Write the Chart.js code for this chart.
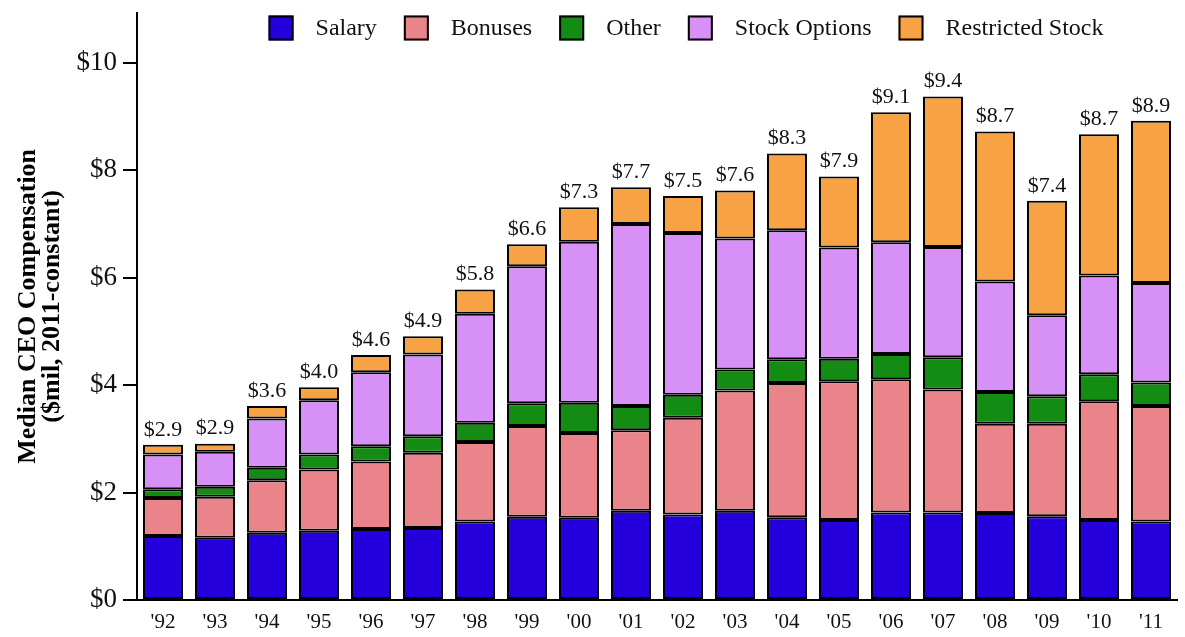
<!DOCTYPE html>
<html lang="en">
<head>
  <meta charset="UTF-8">
  <title>Median CEO Compensation</title>
  <script src="https://cdn.jsdelivr.net/npm/chart.js"></script>
  <style>
    html, body { margin: 0; padding: 0; background: #fff; }
    #wrap { width: 1185px; height: 637px; }
  </style>
</head>
<body>
  <div id="wrap"><canvas id="ceoChart"></canvas></div>

  <script>
    // Data ($ millions, 2011-constant)
    const years = ["'92", "'93", "'94", "'95", "'96", "'97", "'98", "'99", "'00", "'01",
                   "'02", "'03", "'04", "'05", "'06", "'07", "'08", "'09", "'10", "'11"];
    const salary       = [1.19, 1.16, 1.25, 1.29, 1.32, 1.34, 1.46, 1.55, 1.53, 1.66, 1.59, 1.66, 1.54, 1.49, 1.63, 1.63, 1.62, 1.56, 1.49, 1.46];
    const bonuses      = [0.71, 0.76, 0.98, 1.14, 1.26, 1.40, 1.48, 1.69, 1.58, 1.50, 1.80, 2.24, 2.50, 2.58, 2.48, 2.29, 1.66, 1.72, 2.21, 2.15];
    const other        = [0.16, 0.19, 0.23, 0.28, 0.28, 0.31, 0.36, 0.42, 0.56, 0.45, 0.43, 0.39, 0.44, 0.42, 0.47, 0.60, 0.59, 0.51, 0.50, 0.44];
    const stockOptions = [0.65, 0.65, 0.92, 1.01, 1.38, 1.52, 2.03, 2.55, 3.00, 3.39, 3.01, 2.44, 2.40, 2.07, 2.08, 2.05, 2.06, 1.51, 1.84, 1.85];
    const restricted   = [0.18, 0.15, 0.23, 0.24, 0.32, 0.34, 0.45, 0.41, 0.64, 0.68, 0.69, 0.89, 1.43, 1.32, 2.42, 2.80, 2.79, 2.13, 2.63, 3.02];
    const totals       = [2.9, 2.9, 3.6, 4.0, 4.6, 4.9, 5.8, 6.6, 7.3, 7.7, 7.5, 7.6, 8.3, 7.9, 9.1, 9.4, 8.7, 7.4, 8.7, 8.9];
    const yTicks       = [0, 2, 4, 6, 8, 10];

    const serif = '"Liberation Serif", "DejaVu Serif", serif';

    // total above each stack
    const totalsPlugin = {
      id: 'totals',
      afterDatasetsDraw(chart) {
        const ctx = chart.ctx;
        const topMeta = chart.getDatasetMeta(chart.data.datasets.length - 1);
        ctx.save();
        ctx.font = '22px ' + serif;
        ctx.fillStyle = '#111';
        ctx.textAlign = 'center';
        ctx.textBaseline = 'bottom';
        topMeta.data.forEach((bar, i) => {
          ctx.fillText('$' + totals[i].toFixed(1), bar.x, bar.y - 4);
        });
        ctx.restore();
      }
    };

    // one-row legend laid over the top of the plot
    const topLegend = {
      id: 'topLegend',
      afterDraw(chart) {
        const ctx = chart.ctx;
        const box = 25, gapText = 22, gapItem = 27, midY = 28, centreX = 686;
        ctx.save();
        ctx.font = '24px ' + serif;
        const items = chart.data.datasets.map(d => ({ d: d, w: ctx.measureText(d.label).width }));
        const total = items.reduce((s, it) => s + box + gapText + it.w, 0) + gapItem * (items.length - 1);
        let x = centreX - total / 2;
        items.forEach(it => {
          ctx.fillStyle = it.d.backgroundColor;
          ctx.fillRect(x, midY - box / 2, box, box);
          ctx.lineWidth = 2;
          ctx.strokeStyle = '#000';
          ctx.strokeRect(x + 1, midY - box / 2 + 1, box - 2, box - 2);
          ctx.fillStyle = '#111';
          ctx.textBaseline = 'middle';
          ctx.textAlign = 'left';
          ctx.fillText(it.d.label, x + box + gapText, midY + 1);
          x += box + gapText + it.w + gapItem;
        });
        ctx.restore();
      }
    };

    const ds = (label, data, color) => ({
      label: label,
      data: data,
      backgroundColor: color,
      borderColor: '#000',
      borderWidth: 2,
      borderSkipped: false,
      barPercentage: 0.77,
      categoryPercentage: 1.0
    });

    new Chart(document.getElementById('ceoChart'), {
      type: 'bar',
      data: {
        labels: years,
        datasets: [
          ds('Salary', salary, '#2600dc'),
          ds('Bonuses', bonuses, '#e9848a'),
          ds('Other', other, '#148c14'),
          ds('Stock Options', stockOptions, '#d690f6'),
          ds('Restricted Stock', restricted, '#f7a244')
        ]
      },
      options: {
        responsive: true,
        maintainAspectRatio: false,
        animation: false,
        layout: { padding: { top: 0, right: 8, left: 0, bottom: 2 } },
        plugins: {
          legend: { display: false },
          tooltip: { enabled: false }
        },
        scales: {
          x: {
            stacked: true,
            afterFit(scale) { scale.height = 35; },
            grid: { display: false, drawTicks: false },
            border: { display: true, color: '#000', width: 2 },
            ticks: { color: '#111', padding: 10, font: { family: serif, size: 21 } }
          },
          y: {
            stacked: true,
            min: 0,
            max: 10.93,
            afterFit(scale) { scale.width = 137; },
            afterBuildTicks(scale) {
              scale.ticks = yTicks.map(v => ({ value: v }));
            },
            grid: {
              display: true,
              drawOnChartArea: false,
              drawTicks: true,
              tickLength: 14,
              color: '#000',
              lineWidth: 2
            },
            border: { display: true, color: '#000', width: 2 },
            ticks: {
              color: '#111',
              padding: 6,
              font: { family: serif, size: 27, lineHeight: 0.5 },
              callback: v => '$' + v
            },
            title: {
              display: true,
              text: ['Median CEO Compensation', '($mil, 2011-constant)'],
              color: '#000',
              padding: { top: 16, bottom: 0 },
              font: { family: serif, size: 26, weight: 'bold', lineHeight: 0.92 }
            }
          }
        }
      },
      plugins: [totalsPlugin, topLegend]
    });
  </script>
</body>
</html>
